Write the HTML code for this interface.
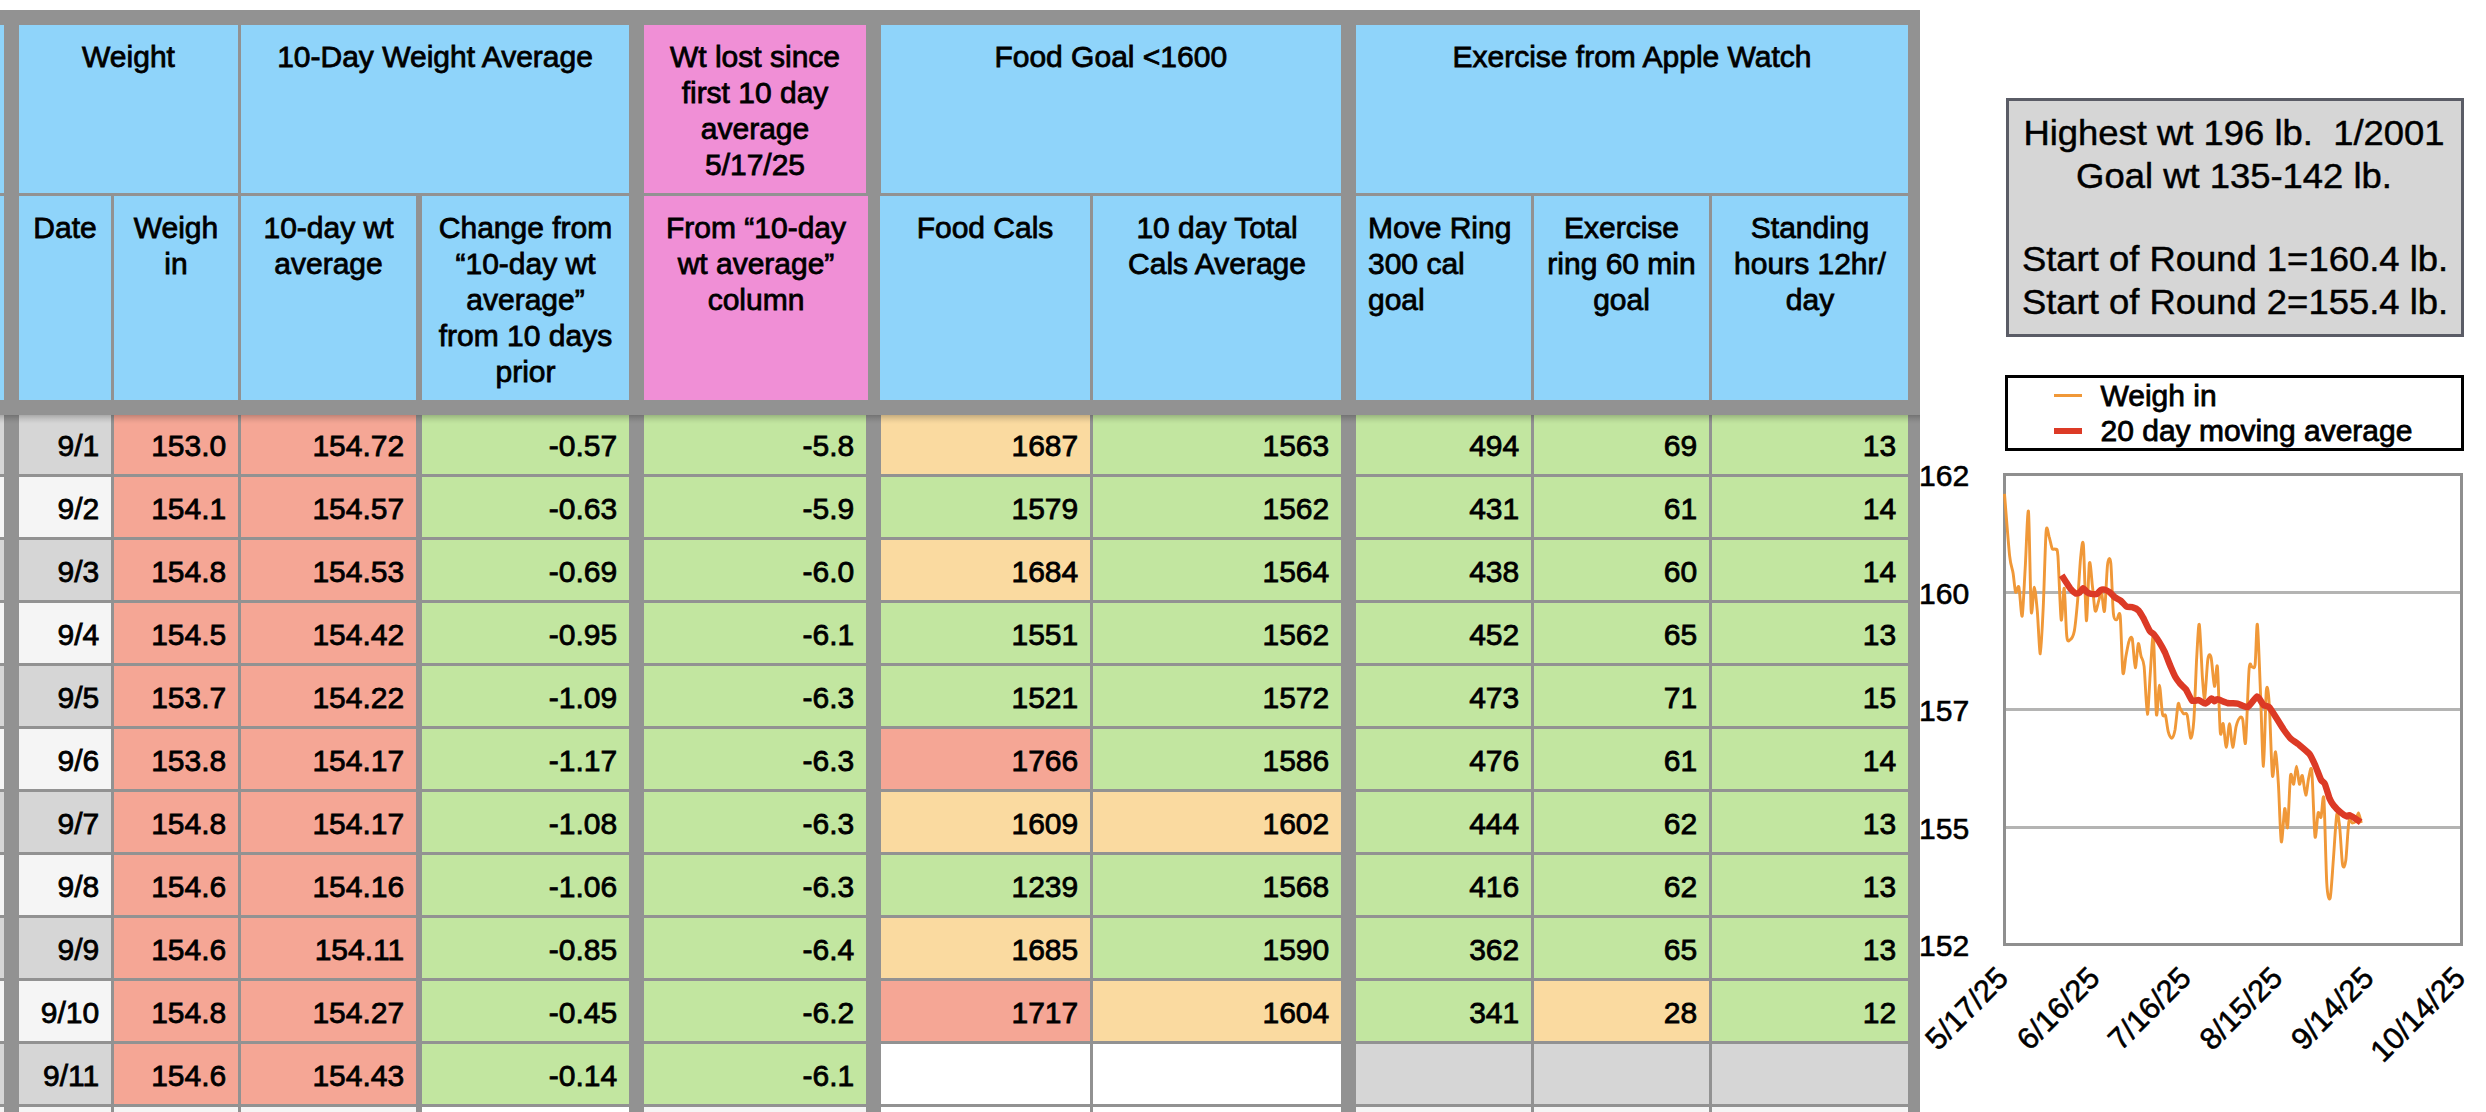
<!DOCTYPE html>
<html><head><meta charset="utf-8"><title>Weight tracker</title>
<style>
html,body{margin:0;padding:0;background:#fff}
body{width:2486px;height:1112px;position:relative;overflow:hidden;font-family:"Liberation Sans",Arial,sans-serif;font-size:30px;color:#000;-webkit-text-stroke:0.8px #000}
.c{position:absolute;box-sizing:border-box;overflow:hidden}
.bg{left:0;top:10px;width:1920px;height:1102px;background:#929292}
.h{text-align:center;line-height:36px;padding-top:13.6px;white-space:nowrap}
.d{text-align:right;line-height:60px;white-space:nowrap}
.d span{position:relative;display:block;padding-right:11.8px;height:60px;margin-top:1.6px}
.tb{position:absolute;box-sizing:border-box;left:2006px;top:98px;width:458px;height:239px;border:3px solid #5a5c66;background:#d6d6d6}
.tl{position:absolute;left:2006px;width:458px;text-align:center;font-size:34.7px;line-height:40px;white-space:nowrap;transform:scaleX(1.05);transform-origin:50% 50%;-webkit-text-stroke:0.45px #000}
.lg{position:absolute;box-sizing:border-box;left:2005px;top:375px;width:459px;height:76px;border:3px solid #000;background:#fff}
.t{position:absolute;line-height:36px;white-space:nowrap}
</style></head><body>
<div class="c bg"></div>
<div class="c " style="left:0px;top:25px;width:4px;height:168px;background:#8fd4fa;"></div>
<div class="c " style="left:0px;top:196px;width:4px;height:204px;background:#8fd4fa;"></div>
<div class="c h" style="left:19px;top:25px;width:219px;height:168px;background:#8fd4fa;">Weight</div>
<div class="c h" style="left:241px;top:25px;width:388px;height:168px;background:#8fd4fa;">10-Day Weight Average</div>
<div class="c h" style="left:644px;top:25px;width:222px;height:168px;background:#f08fd6;">Wt lost since<br>first 10 day<br>average<br>5/17/25</div>
<div class="c h" style="left:880.5px;top:25px;width:460.5px;height:168px;background:#8fd4fa;">Food Goal &lt;1600</div>
<div class="c h" style="left:1356px;top:25px;width:552px;height:168px;background:#8fd4fa;">Exercise from Apple Watch</div>
<div class="c h" style="left:19px;top:196px;width:92px;height:204px;background:#8fd4fa;">Date</div>
<div class="c h" style="left:114px;top:196px;width:124px;height:204px;background:#8fd4fa;">Weigh<br>in</div>
<div class="c h" style="left:241px;top:196px;width:175px;height:204px;background:#8fd4fa;">10-day wt<br>average</div>
<div class="c h" style="left:422px;top:196px;width:207px;height:204px;background:#8fd4fa;">Change from<br>“10-day wt<br>average”<br>from 10 days<br>prior</div>
<div class="c h" style="left:644px;top:196px;width:224px;height:204px;background:#f08fd6;">From “10-day<br>wt average”<br>column</div>
<div class="c h" style="left:880px;top:196px;width:210px;height:204px;background:#8fd4fa;">Food Cals</div>
<div class="c h" style="left:1093px;top:196px;width:248px;height:204px;background:#8fd4fa;">10 day Total<br>Cals Average</div>
<div class="c h" style="left:1356px;top:196px;width:175px;height:204px;background:#8fd4fa;text-align:left;padding-left:12px;">Move Ring<br>300 cal<br>goal</div>
<div class="c h" style="left:1534px;top:196px;width:175px;height:204px;background:#8fd4fa;">Exercise<br>ring 60 min<br>goal</div>
<div class="c h" style="left:1712px;top:196px;width:196px;height:204px;background:#8fd4fa;">Standing<br>hours 12hr/<br>day</div>
<div class="c " style="left:0px;top:415px;width:4px;height:59px;background:#d6d6d6;"></div>
<div class="c d" style="left:19px;top:415px;width:92px;height:59px;background:#d6d6d6;"><span style="top:-1px">9/1</span></div>
<div class="c d" style="left:114px;top:415px;width:124px;height:59px;background:#f5a695;"><span style="top:-1px">153.0</span></div>
<div class="c d" style="left:241px;top:415px;width:175px;height:59px;background:#f5a695;"><span style="top:-1px">154.72</span></div>
<div class="c d" style="left:422px;top:415px;width:207px;height:59px;background:#c2e6a0;"><span style="top:-1px">-0.57</span></div>
<div class="c d" style="left:644px;top:415px;width:222px;height:59px;background:#c2e6a0;"><span style="top:-1px">-5.8</span></div>
<div class="c d" style="left:881px;top:415px;width:209px;height:59px;background:#fadaa0;"><span style="top:-1px">1687</span></div>
<div class="c d" style="left:1093px;top:415px;width:248px;height:59px;background:#c2e6a0;"><span style="top:-1px">1563</span></div>
<div class="c d" style="left:1356px;top:415px;width:175px;height:59px;background:#c2e6a0;"><span style="top:-1px">494</span></div>
<div class="c d" style="left:1534px;top:415px;width:175px;height:59px;background:#c2e6a0;"><span style="top:-1px">69</span></div>
<div class="c d" style="left:1712px;top:415px;width:196px;height:59px;background:#c2e6a0;"><span style="top:-1px">13</span></div>
<div class="c " style="left:0px;top:477px;width:4px;height:60px;background:#f5f5f5;"></div>
<div class="c d" style="left:19px;top:477px;width:92px;height:60px;background:#f5f5f5;"><span style="top:0px">9/2</span></div>
<div class="c d" style="left:114px;top:477px;width:124px;height:60px;background:#f5a695;"><span style="top:0px">154.1</span></div>
<div class="c d" style="left:241px;top:477px;width:175px;height:60px;background:#f5a695;"><span style="top:0px">154.57</span></div>
<div class="c d" style="left:422px;top:477px;width:207px;height:60px;background:#c2e6a0;"><span style="top:0px">-0.63</span></div>
<div class="c d" style="left:644px;top:477px;width:222px;height:60px;background:#c2e6a0;"><span style="top:0px">-5.9</span></div>
<div class="c d" style="left:881px;top:477px;width:209px;height:60px;background:#c2e6a0;"><span style="top:0px">1579</span></div>
<div class="c d" style="left:1093px;top:477px;width:248px;height:60px;background:#c2e6a0;"><span style="top:0px">1562</span></div>
<div class="c d" style="left:1356px;top:477px;width:175px;height:60px;background:#c2e6a0;"><span style="top:0px">431</span></div>
<div class="c d" style="left:1534px;top:477px;width:175px;height:60px;background:#c2e6a0;"><span style="top:0px">61</span></div>
<div class="c d" style="left:1712px;top:477px;width:196px;height:60px;background:#c2e6a0;"><span style="top:0px">14</span></div>
<div class="c " style="left:0px;top:540px;width:4px;height:60px;background:#d6d6d6;"></div>
<div class="c d" style="left:19px;top:540px;width:92px;height:60px;background:#d6d6d6;"><span style="top:0px">9/3</span></div>
<div class="c d" style="left:114px;top:540px;width:124px;height:60px;background:#f5a695;"><span style="top:0px">154.8</span></div>
<div class="c d" style="left:241px;top:540px;width:175px;height:60px;background:#f5a695;"><span style="top:0px">154.53</span></div>
<div class="c d" style="left:422px;top:540px;width:207px;height:60px;background:#c2e6a0;"><span style="top:0px">-0.69</span></div>
<div class="c d" style="left:644px;top:540px;width:222px;height:60px;background:#c2e6a0;"><span style="top:0px">-6.0</span></div>
<div class="c d" style="left:881px;top:540px;width:209px;height:60px;background:#fadaa0;"><span style="top:0px">1684</span></div>
<div class="c d" style="left:1093px;top:540px;width:248px;height:60px;background:#c2e6a0;"><span style="top:0px">1564</span></div>
<div class="c d" style="left:1356px;top:540px;width:175px;height:60px;background:#c2e6a0;"><span style="top:0px">438</span></div>
<div class="c d" style="left:1534px;top:540px;width:175px;height:60px;background:#c2e6a0;"><span style="top:0px">60</span></div>
<div class="c d" style="left:1712px;top:540px;width:196px;height:60px;background:#c2e6a0;"><span style="top:0px">14</span></div>
<div class="c " style="left:0px;top:603px;width:4px;height:60px;background:#f5f5f5;"></div>
<div class="c d" style="left:19px;top:603px;width:92px;height:60px;background:#f5f5f5;"><span style="top:0px">9/4</span></div>
<div class="c d" style="left:114px;top:603px;width:124px;height:60px;background:#f5a695;"><span style="top:0px">154.5</span></div>
<div class="c d" style="left:241px;top:603px;width:175px;height:60px;background:#f5a695;"><span style="top:0px">154.42</span></div>
<div class="c d" style="left:422px;top:603px;width:207px;height:60px;background:#c2e6a0;"><span style="top:0px">-0.95</span></div>
<div class="c d" style="left:644px;top:603px;width:222px;height:60px;background:#c2e6a0;"><span style="top:0px">-6.1</span></div>
<div class="c d" style="left:881px;top:603px;width:209px;height:60px;background:#c2e6a0;"><span style="top:0px">1551</span></div>
<div class="c d" style="left:1093px;top:603px;width:248px;height:60px;background:#c2e6a0;"><span style="top:0px">1562</span></div>
<div class="c d" style="left:1356px;top:603px;width:175px;height:60px;background:#c2e6a0;"><span style="top:0px">452</span></div>
<div class="c d" style="left:1534px;top:603px;width:175px;height:60px;background:#c2e6a0;"><span style="top:0px">65</span></div>
<div class="c d" style="left:1712px;top:603px;width:196px;height:60px;background:#c2e6a0;"><span style="top:0px">13</span></div>
<div class="c " style="left:0px;top:666px;width:4px;height:60px;background:#d6d6d6;"></div>
<div class="c d" style="left:19px;top:666px;width:92px;height:60px;background:#d6d6d6;"><span style="top:0px">9/5</span></div>
<div class="c d" style="left:114px;top:666px;width:124px;height:60px;background:#f5a695;"><span style="top:0px">153.7</span></div>
<div class="c d" style="left:241px;top:666px;width:175px;height:60px;background:#f5a695;"><span style="top:0px">154.22</span></div>
<div class="c d" style="left:422px;top:666px;width:207px;height:60px;background:#c2e6a0;"><span style="top:0px">-1.09</span></div>
<div class="c d" style="left:644px;top:666px;width:222px;height:60px;background:#c2e6a0;"><span style="top:0px">-6.3</span></div>
<div class="c d" style="left:881px;top:666px;width:209px;height:60px;background:#c2e6a0;"><span style="top:0px">1521</span></div>
<div class="c d" style="left:1093px;top:666px;width:248px;height:60px;background:#c2e6a0;"><span style="top:0px">1572</span></div>
<div class="c d" style="left:1356px;top:666px;width:175px;height:60px;background:#c2e6a0;"><span style="top:0px">473</span></div>
<div class="c d" style="left:1534px;top:666px;width:175px;height:60px;background:#c2e6a0;"><span style="top:0px">71</span></div>
<div class="c d" style="left:1712px;top:666px;width:196px;height:60px;background:#c2e6a0;"><span style="top:0px">15</span></div>
<div class="c " style="left:0px;top:729px;width:4px;height:60px;background:#f5f5f5;"></div>
<div class="c d" style="left:19px;top:729px;width:92px;height:60px;background:#f5f5f5;"><span style="top:0px">9/6</span></div>
<div class="c d" style="left:114px;top:729px;width:124px;height:60px;background:#f5a695;"><span style="top:0px">153.8</span></div>
<div class="c d" style="left:241px;top:729px;width:175px;height:60px;background:#f5a695;"><span style="top:0px">154.17</span></div>
<div class="c d" style="left:422px;top:729px;width:207px;height:60px;background:#c2e6a0;"><span style="top:0px">-1.17</span></div>
<div class="c d" style="left:644px;top:729px;width:222px;height:60px;background:#c2e6a0;"><span style="top:0px">-6.3</span></div>
<div class="c d" style="left:881px;top:729px;width:209px;height:60px;background:#f5a695;"><span style="top:0px">1766</span></div>
<div class="c d" style="left:1093px;top:729px;width:248px;height:60px;background:#c2e6a0;"><span style="top:0px">1586</span></div>
<div class="c d" style="left:1356px;top:729px;width:175px;height:60px;background:#c2e6a0;"><span style="top:0px">476</span></div>
<div class="c d" style="left:1534px;top:729px;width:175px;height:60px;background:#c2e6a0;"><span style="top:0px">61</span></div>
<div class="c d" style="left:1712px;top:729px;width:196px;height:60px;background:#c2e6a0;"><span style="top:0px">14</span></div>
<div class="c " style="left:0px;top:792px;width:4px;height:60px;background:#d6d6d6;"></div>
<div class="c d" style="left:19px;top:792px;width:92px;height:60px;background:#d6d6d6;"><span style="top:0px">9/7</span></div>
<div class="c d" style="left:114px;top:792px;width:124px;height:60px;background:#f5a695;"><span style="top:0px">154.8</span></div>
<div class="c d" style="left:241px;top:792px;width:175px;height:60px;background:#f5a695;"><span style="top:0px">154.17</span></div>
<div class="c d" style="left:422px;top:792px;width:207px;height:60px;background:#c2e6a0;"><span style="top:0px">-1.08</span></div>
<div class="c d" style="left:644px;top:792px;width:222px;height:60px;background:#c2e6a0;"><span style="top:0px">-6.3</span></div>
<div class="c d" style="left:881px;top:792px;width:209px;height:60px;background:#fadaa0;"><span style="top:0px">1609</span></div>
<div class="c d" style="left:1093px;top:792px;width:248px;height:60px;background:#fadaa0;"><span style="top:0px">1602</span></div>
<div class="c d" style="left:1356px;top:792px;width:175px;height:60px;background:#c2e6a0;"><span style="top:0px">444</span></div>
<div class="c d" style="left:1534px;top:792px;width:175px;height:60px;background:#c2e6a0;"><span style="top:0px">62</span></div>
<div class="c d" style="left:1712px;top:792px;width:196px;height:60px;background:#c2e6a0;"><span style="top:0px">13</span></div>
<div class="c " style="left:0px;top:855px;width:4px;height:60px;background:#f5f5f5;"></div>
<div class="c d" style="left:19px;top:855px;width:92px;height:60px;background:#f5f5f5;"><span style="top:0px">9/8</span></div>
<div class="c d" style="left:114px;top:855px;width:124px;height:60px;background:#f5a695;"><span style="top:0px">154.6</span></div>
<div class="c d" style="left:241px;top:855px;width:175px;height:60px;background:#f5a695;"><span style="top:0px">154.16</span></div>
<div class="c d" style="left:422px;top:855px;width:207px;height:60px;background:#c2e6a0;"><span style="top:0px">-1.06</span></div>
<div class="c d" style="left:644px;top:855px;width:222px;height:60px;background:#c2e6a0;"><span style="top:0px">-6.3</span></div>
<div class="c d" style="left:881px;top:855px;width:209px;height:60px;background:#c2e6a0;"><span style="top:0px">1239</span></div>
<div class="c d" style="left:1093px;top:855px;width:248px;height:60px;background:#c2e6a0;"><span style="top:0px">1568</span></div>
<div class="c d" style="left:1356px;top:855px;width:175px;height:60px;background:#c2e6a0;"><span style="top:0px">416</span></div>
<div class="c d" style="left:1534px;top:855px;width:175px;height:60px;background:#c2e6a0;"><span style="top:0px">62</span></div>
<div class="c d" style="left:1712px;top:855px;width:196px;height:60px;background:#c2e6a0;"><span style="top:0px">13</span></div>
<div class="c " style="left:0px;top:918px;width:4px;height:60px;background:#d6d6d6;"></div>
<div class="c d" style="left:19px;top:918px;width:92px;height:60px;background:#d6d6d6;"><span style="top:0px">9/9</span></div>
<div class="c d" style="left:114px;top:918px;width:124px;height:60px;background:#f5a695;"><span style="top:0px">154.6</span></div>
<div class="c d" style="left:241px;top:918px;width:175px;height:60px;background:#f5a695;"><span style="top:0px">154.11</span></div>
<div class="c d" style="left:422px;top:918px;width:207px;height:60px;background:#c2e6a0;"><span style="top:0px">-0.85</span></div>
<div class="c d" style="left:644px;top:918px;width:222px;height:60px;background:#c2e6a0;"><span style="top:0px">-6.4</span></div>
<div class="c d" style="left:881px;top:918px;width:209px;height:60px;background:#fadaa0;"><span style="top:0px">1685</span></div>
<div class="c d" style="left:1093px;top:918px;width:248px;height:60px;background:#c2e6a0;"><span style="top:0px">1590</span></div>
<div class="c d" style="left:1356px;top:918px;width:175px;height:60px;background:#c2e6a0;"><span style="top:0px">362</span></div>
<div class="c d" style="left:1534px;top:918px;width:175px;height:60px;background:#c2e6a0;"><span style="top:0px">65</span></div>
<div class="c d" style="left:1712px;top:918px;width:196px;height:60px;background:#c2e6a0;"><span style="top:0px">13</span></div>
<div class="c " style="left:0px;top:981px;width:4px;height:60px;background:#f5f5f5;"></div>
<div class="c d" style="left:19px;top:981px;width:92px;height:60px;background:#f5f5f5;"><span style="top:0px">9/10</span></div>
<div class="c d" style="left:114px;top:981px;width:124px;height:60px;background:#f5a695;"><span style="top:0px">154.8</span></div>
<div class="c d" style="left:241px;top:981px;width:175px;height:60px;background:#f5a695;"><span style="top:0px">154.27</span></div>
<div class="c d" style="left:422px;top:981px;width:207px;height:60px;background:#c2e6a0;"><span style="top:0px">-0.45</span></div>
<div class="c d" style="left:644px;top:981px;width:222px;height:60px;background:#c2e6a0;"><span style="top:0px">-6.2</span></div>
<div class="c d" style="left:881px;top:981px;width:209px;height:60px;background:#f5a695;"><span style="top:0px">1717</span></div>
<div class="c d" style="left:1093px;top:981px;width:248px;height:60px;background:#fadaa0;"><span style="top:0px">1604</span></div>
<div class="c d" style="left:1356px;top:981px;width:175px;height:60px;background:#c2e6a0;"><span style="top:0px">341</span></div>
<div class="c d" style="left:1534px;top:981px;width:175px;height:60px;background:#fadaa0;"><span style="top:0px">28</span></div>
<div class="c d" style="left:1712px;top:981px;width:196px;height:60px;background:#c2e6a0;"><span style="top:0px">12</span></div>
<div class="c " style="left:0px;top:1044px;width:4px;height:60px;background:#d6d6d6;"></div>
<div class="c d" style="left:19px;top:1044px;width:92px;height:60px;background:#d6d6d6;"><span style="top:0px">9/11</span></div>
<div class="c d" style="left:114px;top:1044px;width:124px;height:60px;background:#f5a695;"><span style="top:0px">154.6</span></div>
<div class="c d" style="left:241px;top:1044px;width:175px;height:60px;background:#f5a695;"><span style="top:0px">154.43</span></div>
<div class="c d" style="left:422px;top:1044px;width:207px;height:60px;background:#c2e6a0;"><span style="top:0px">-0.14</span></div>
<div class="c d" style="left:644px;top:1044px;width:222px;height:60px;background:#c2e6a0;"><span style="top:0px">-6.1</span></div>
<div class="c d" style="left:881px;top:1044px;width:209px;height:60px;background:#ffffff;"></div>
<div class="c d" style="left:1093px;top:1044px;width:248px;height:60px;background:#ffffff;"></div>
<div class="c d" style="left:1356px;top:1044px;width:175px;height:60px;background:#d6d6d6;"></div>
<div class="c d" style="left:1534px;top:1044px;width:175px;height:60px;background:#d6d6d6;"></div>
<div class="c d" style="left:1712px;top:1044px;width:196px;height:60px;background:#d6d6d6;"></div>
<div class="c " style="left:0px;top:1107px;width:4px;height:60px;background:#f5f5f5;"></div>
<div class="c d" style="left:19px;top:1107px;width:92px;height:60px;background:#f5f5f5;"></div>
<div class="c d" style="left:114px;top:1107px;width:124px;height:60px;background:#f5f5f5;"></div>
<div class="c d" style="left:241px;top:1107px;width:175px;height:60px;background:#f5f5f5;"></div>
<div class="c d" style="left:422px;top:1107px;width:207px;height:60px;background:#ffffff;"></div>
<div class="c d" style="left:644px;top:1107px;width:222px;height:60px;background:#f5f5f5;"></div>
<div class="c d" style="left:881px;top:1107px;width:209px;height:60px;background:#ffffff;"></div>
<div class="c d" style="left:1093px;top:1107px;width:248px;height:60px;background:#ffffff;"></div>
<div class="c d" style="left:1356px;top:1107px;width:175px;height:60px;background:#f5f5f5;"></div>
<div class="c d" style="left:1534px;top:1107px;width:175px;height:60px;background:#f5f5f5;"></div>
<div class="c d" style="left:1712px;top:1107px;width:196px;height:60px;background:#f5f5f5;"></div>
<div class="c" style="left:0;top:415px;width:1920px;height:9px;background:linear-gradient(rgba(0,0,0,.21) 0%,rgba(0,0,0,.17) 15%,rgba(0,0,0,.09) 45%,rgba(0,0,0,.03) 75%,rgba(0,0,0,0) 100%)"></div>
<div class="tb"></div>
<div class="tl" style="top:113.2px;left:2005px">Highest wt 196 lb.&nbsp; 1/2001</div>
<div class="tl" style="top:155.6px;left:2005px">Goal wt 135-142 lb.</div>
<div class="tl" style="top:239.1px;left:2006px">Start of Round 1=160.4 lb.</div>
<div class="tl" style="top:281.8px;left:2006px">Start of Round 2=155.4 lb.</div>
<div class="lg"></div>
<div class="c" style="left:2054px;top:394px;width:28px;height:3px;background:#f09838"></div>
<div class="c" style="left:2054px;top:428px;width:28px;height:6px;background:#dc3a26"></div>
<div class="t" style="left:2100.5px;top:378.4px">Weigh in</div>
<div class="t" style="left:2100.5px;top:413.3px">20 day moving average</div>
<svg class="c" style="left:0;top:0" width="2486" height="1112" viewBox="0 0 2486 1112" font-family="Liberation Sans, Arial, sans-serif" font-size="30" >
<line x1="2004.5" x2="2461.5" y1="592.5" y2="592.5" stroke="#b4b4b3" stroke-width="3"/>
<line x1="2004.5" x2="2461.5" y1="709.5" y2="709.5" stroke="#b4b4b3" stroke-width="3"/>
<line x1="2004.5" x2="2461.5" y1="827.5" y2="827.5" stroke="#b4b4b3" stroke-width="3"/>
<rect x="2004.5" y="474.5" width="457.0" height="470.0" fill="none" stroke="#8f8f8f" stroke-width="3"/>
<path d="M2004.5,493.9C2005.2,502.5 2008.4,544.5 2009.6,555.6C2010.8,566.7 2012.3,568.1 2013.1,573.2C2013.9,578.3 2014.8,590.2 2015.6,592.1C2016.4,594.0 2018.0,583.7 2018.9,587.1C2019.8,590.4 2021.3,618.7 2022.2,616.0C2023.0,613.4 2024.3,582.8 2025.2,568.2C2026.1,553.5 2027.6,505.5 2028.5,511.5C2029.3,517.5 2030.4,600.4 2031.2,611.0C2032.0,621.6 2033.4,587.1 2034.3,587.1C2035.1,587.1 2036.4,601.6 2037.3,611.0C2038.1,620.3 2039.5,654.5 2040.3,653.8C2041.1,653.1 2042.5,623.0 2043.3,605.9C2044.1,588.8 2045.3,541.3 2046.1,531.6C2046.9,521.9 2048.3,534.3 2049.1,536.7C2050.0,539.0 2051.3,546.8 2052.1,548.5C2053.0,550.3 2054.6,548.3 2055.4,549.3C2056.2,550.3 2057.1,545.7 2057.9,555.6C2058.7,565.4 2060.3,615.2 2061.2,619.8C2062.1,624.4 2063.5,586.0 2064.2,588.3C2065.0,590.6 2065.9,628.9 2066.8,636.2C2067.6,643.4 2069.0,640.7 2070.0,639.9C2071.1,639.2 2073.2,636.6 2074.3,631.1C2075.4,625.7 2076.7,611.1 2077.6,600.9C2078.5,590.7 2079.8,565.9 2080.6,558.1C2081.4,550.3 2082.6,536.2 2083.4,545.0C2084.2,553.7 2085.6,618.0 2086.4,620.6C2087.2,623.1 2088.6,568.0 2089.4,563.1C2090.3,558.3 2091.6,579.1 2092.4,585.8C2093.3,592.5 2094.3,608.9 2095.2,611.0C2096.1,613.1 2097.9,603.6 2098.7,600.9C2099.6,598.3 2100.7,590.7 2101.5,592.1C2102.3,593.5 2103.7,614.9 2104.5,611.0C2105.4,607.1 2106.7,571.1 2107.6,564.4C2108.4,557.7 2110.0,556.2 2110.8,563.1C2111.6,570.0 2112.5,605.6 2113.4,613.5C2114.2,621.4 2115.7,619.4 2116.6,619.8C2117.6,620.2 2119.3,608.6 2120.2,616.0C2121.0,623.4 2122.1,667.1 2122.9,672.7C2123.7,678.3 2125.1,660.7 2125.9,656.3C2126.8,651.9 2128.1,643.7 2129.0,641.2C2129.8,638.7 2131.4,635.0 2132.2,638.7C2133.1,642.4 2134.4,667.0 2135.3,667.7C2136.1,668.4 2137.5,645.3 2138.3,643.7C2139.1,642.1 2140.2,653.1 2141.1,656.3C2141.9,659.5 2143.2,658.3 2144.1,666.4C2145.0,674.5 2146.5,713.6 2147.4,714.3C2148.2,715.0 2149.5,682.4 2150.4,671.4C2151.2,660.5 2152.6,630.2 2153.4,636.2C2154.2,642.2 2155.6,707.4 2156.4,714.3C2157.3,721.1 2158.6,685.3 2159.4,685.3C2160.3,685.3 2161.6,710.0 2162.5,714.3C2163.3,718.5 2164.7,713.0 2165.5,715.5C2166.3,718.0 2167.4,728.7 2168.3,731.9C2169.1,735.1 2170.8,738.5 2171.8,738.2C2172.7,737.8 2174.2,734.1 2175.1,729.4C2175.9,724.6 2177.4,707.2 2178.1,704.2C2178.8,701.2 2179.2,706.6 2180.0,707.9C2180.8,709.2 2182.4,712.7 2183.5,713.7C2184.5,714.7 2186.2,711.7 2187.2,715.1C2188.2,718.5 2189.7,737.3 2190.6,738.1C2191.6,738.9 2193.0,732.1 2193.8,720.9C2194.7,709.6 2195.9,671.1 2196.7,657.6C2197.5,644.1 2198.5,621.6 2199.3,624.5C2200.1,627.3 2201.7,667.4 2202.4,677.7C2203.2,688.0 2204.0,700.5 2204.7,697.8C2205.5,695.2 2207.0,664.6 2207.9,659.0C2208.8,653.4 2210.2,653.7 2211.1,657.6C2212.0,661.4 2213.6,685.0 2214.5,686.3C2215.4,687.6 2216.6,660.3 2217.4,666.8C2218.2,673.2 2219.5,724.4 2220.3,732.4C2221.1,740.4 2222.3,721.6 2223.2,723.7C2224.0,725.8 2225.4,747.3 2226.3,747.3C2227.2,747.3 2228.6,723.7 2229.5,723.7C2230.4,723.7 2231.7,746.9 2232.7,747.3C2233.6,747.7 2235.1,730.7 2236.1,726.6C2237.1,722.5 2238.6,719.0 2239.6,718.0C2240.5,717.0 2241.9,716.0 2242.7,719.4C2243.6,722.8 2244.7,749.5 2245.6,742.4C2246.5,735.4 2248.2,679.7 2249.1,669.1C2250.0,658.5 2251.1,667.4 2251.9,666.8C2252.8,666.2 2254.3,670.7 2255.1,664.7C2255.9,658.8 2256.6,620.2 2257.4,624.5C2258.2,628.7 2259.7,675.1 2260.6,695.0C2261.4,714.8 2262.6,766.9 2263.5,766.3C2264.3,765.7 2265.5,699.4 2266.3,690.6C2267.1,681.9 2268.4,691.7 2269.2,703.6C2270.1,715.5 2271.5,768.8 2272.4,775.5C2273.3,782.3 2274.7,750.7 2275.5,751.9C2276.4,753.2 2277.6,771.6 2278.4,784.2C2279.2,796.7 2280.4,838.3 2281.3,841.7C2282.2,845.2 2283.9,810.6 2284.7,808.6C2285.6,806.6 2286.8,832.0 2287.6,827.3C2288.4,822.7 2289.7,781.6 2290.5,775.5C2291.3,769.5 2292.8,785.5 2293.7,784.2C2294.5,782.9 2295.7,766.3 2296.5,766.3C2297.4,766.3 2298.6,782.9 2299.4,784.2C2300.2,785.5 2301.4,774.0 2302.3,775.5C2303.2,777.1 2304.9,794.7 2305.8,795.1C2306.6,795.5 2307.8,781.8 2308.6,778.4C2309.5,775.1 2310.9,763.1 2311.8,771.2C2312.7,779.4 2314.1,830.7 2315.0,836.5C2315.9,842.4 2317.3,815.6 2318.1,812.9C2319.0,810.3 2320.2,819.3 2321.0,817.3C2321.8,815.3 2323.1,789.3 2323.9,798.6C2324.7,807.8 2325.9,869.6 2326.8,883.5C2327.6,897.4 2329.3,901.3 2330.2,897.8C2331.1,894.4 2332.5,870.7 2333.4,859.0C2334.3,847.3 2335.9,818.8 2336.8,814.4C2337.7,810.0 2338.9,820.3 2339.7,827.3C2340.5,834.4 2341.7,860.1 2342.6,864.7C2343.4,869.4 2344.9,866.5 2345.8,860.4C2346.6,854.4 2348.0,826.8 2348.9,821.6C2349.8,816.3 2351.2,823.0 2352.1,823.0C2353.0,823.0 2354.7,823.0 2355.5,821.6C2356.4,820.2 2357.6,812.7 2358.4,812.9C2359.2,813.2 2360.9,821.6 2361.3,823.0" fill="none" stroke="#f09838" stroke-width="2.9" stroke-linejoin="round"/>
<path d="M2061.7,575.2C2062.1,575.8 2065.3,580.9 2066.0,582.0C2066.7,583.1 2069.7,587.9 2070.5,588.8C2071.3,589.8 2074.8,593.0 2075.6,593.4C2076.3,593.7 2078.7,593.3 2079.3,592.8C2080.0,592.4 2082.5,588.4 2083.1,588.3C2083.8,588.2 2086.2,591.6 2086.9,592.1C2087.6,592.6 2090.3,593.7 2091.2,593.9C2092.0,594.0 2096.2,594.2 2097.0,593.9C2097.8,593.5 2100.1,590.4 2100.8,590.1C2101.4,589.7 2103.8,589.4 2104.5,589.6C2105.3,589.7 2108.7,591.5 2109.6,592.1C2110.4,592.7 2113.7,596.4 2114.6,597.1C2115.6,597.9 2119.9,600.1 2120.9,600.9C2121.9,601.7 2125.8,606.2 2126.7,606.7C2127.6,607.2 2131.3,606.9 2132.2,607.2C2133.2,607.5 2137.6,609.5 2138.5,610.5C2139.5,611.4 2142.6,616.8 2143.6,618.5C2144.5,620.3 2149.0,629.8 2149.9,631.1C2150.7,632.4 2152.9,633.3 2153.7,634.2C2154.4,635.0 2157.7,639.7 2158.7,641.2C2159.6,642.7 2164.0,650.5 2165.0,652.5C2165.9,654.5 2169.2,663.1 2170.0,665.1C2170.9,667.1 2174.2,674.9 2175.1,676.5C2175.9,678.0 2179.1,682.4 2180.0,683.5C2180.9,684.5 2184.7,687.8 2185.8,689.2C2186.8,690.6 2191.0,699.8 2192.1,700.7C2193.2,701.6 2197.6,699.9 2198.7,700.1C2199.8,700.4 2204.2,703.7 2205.3,703.6C2206.4,703.5 2210.9,698.6 2211.7,698.4C2212.4,698.2 2214.1,701.2 2214.5,701.3C2215.0,701.4 2216.3,699.1 2217.4,699.3C2218.5,699.4 2225.8,702.7 2227.5,703.0C2229.2,703.4 2235.9,703.3 2237.6,703.6C2239.2,703.9 2246.0,707.6 2247.6,707.1C2249.3,706.5 2255.8,696.6 2257.1,696.4C2258.4,696.2 2262.4,704.1 2263.5,705.0C2264.5,705.9 2268.1,706.0 2269.2,707.1C2270.3,708.1 2275.2,716.1 2276.4,718.0C2277.6,719.9 2282.4,727.8 2283.6,729.5C2284.8,731.2 2289.6,737.5 2290.8,738.7C2292.0,739.9 2296.4,742.6 2298.0,743.9C2299.5,745.2 2308.1,752.2 2309.5,754.0C2310.9,755.8 2314.3,763.3 2315.3,765.5C2316.2,767.6 2320.2,778.3 2321.0,779.9C2321.8,781.4 2324.0,782.0 2324.7,783.6C2325.5,785.2 2328.9,796.7 2329.6,798.6C2330.4,800.4 2333.0,804.6 2334.0,805.8C2334.9,807.0 2340.1,812.1 2341.2,812.9C2342.2,813.8 2346.2,816.2 2346.9,816.4C2347.6,816.6 2348.6,814.8 2349.8,815.3C2350.9,815.7 2359.8,821.6 2360.7,822.2" fill="none" stroke="#dc3a26" stroke-width="6.5" stroke-linejoin="miter"/>
<text x="1969.3" y="485.7" text-anchor="end" font-size="30.1" stroke="#000" stroke-width="0.6">162</text>
<text x="1969.3" y="603.7" text-anchor="end" font-size="30.1" stroke="#000" stroke-width="0.6">160</text>
<text x="1969.3" y="720.7" text-anchor="end" font-size="30.1" stroke="#000" stroke-width="0.6">157</text>
<text x="1969.3" y="838.7" text-anchor="end" font-size="30.1" stroke="#000" stroke-width="0.6">155</text>
<text x="1969.3" y="955.7" text-anchor="end" font-size="30.1" stroke="#000" stroke-width="0.6">152</text>
<text transform="translate(2010.0,979.8) rotate(-45)" text-anchor="end" font-size="30.5" stroke="#000" stroke-width="0.6">5/17/25</text>
<text transform="translate(2101.4,979.8) rotate(-45)" text-anchor="end" font-size="30.5" stroke="#000" stroke-width="0.6">6/16/25</text>
<text transform="translate(2192.8,979.8) rotate(-45)" text-anchor="end" font-size="30.5" stroke="#000" stroke-width="0.6">7/16/25</text>
<text transform="translate(2284.2,979.8) rotate(-45)" text-anchor="end" font-size="30.5" stroke="#000" stroke-width="0.6">8/15/25</text>
<text transform="translate(2375.6,979.8) rotate(-45)" text-anchor="end" font-size="30.5" stroke="#000" stroke-width="0.6">9/14/25</text>
<text transform="translate(2467.0,979.8) rotate(-45)" text-anchor="end" font-size="30.5" stroke="#000" stroke-width="0.6">10/14/25</text>
</svg>
</body></html>
